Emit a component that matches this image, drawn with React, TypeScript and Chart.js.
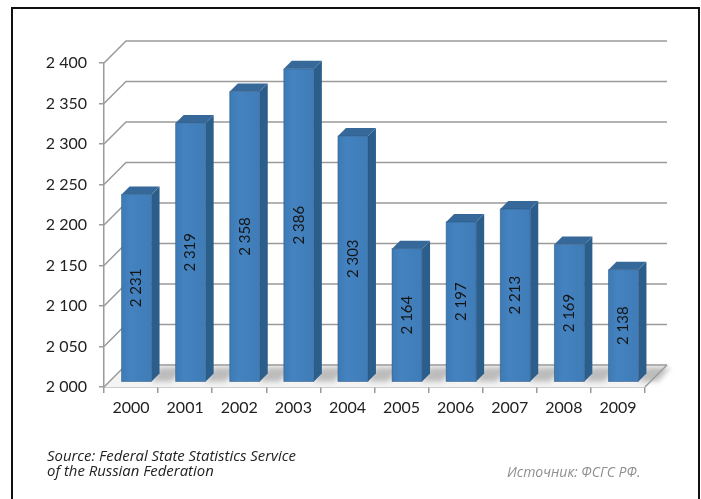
import React, { useEffect, useRef } from "react";
import { Chart, registerables } from "chart.js";

Chart.register(...registerables);

const years = ["2000", "2001", "2002", "2003", "2004", "2005", "2006", "2007", "2008", "2009"];
const values = [2231, 2319, 2358, 2386, 2303, 2164, 2197, 2213, 2169, 2138];
const yMin = 2000;
const yMax = 2400;
const yStep = 50;
const sourceLines = ["Source: Federal State Statistics Service", "of the Russian Federation"];
const sourceRu = "Источник: ФСГС РФ.";

const fmt = (v: number) => {
  const s = String(Math.round(v));
  return s.replace(/\B(?=(\d{3})+(?!\d))/g, " ");
};

const DX = 22; // back wall offset
const D1 = 5.5; // bar front depth
const D2 = 8; // bar depth

const GRID = "#9a9a9a";

const wallPlugin = {
  id: "wall3d",
  beforeDatasetsDraw(chart: any) {
    const { ctx, chartArea, scales } = chart;
    const y = scales.y;
    const L = chartArea.left;
    const R = chartArea.right;
    const y0 = y.getPixelForValue(yMin);
    ctx.save();
    // floor
    ctx.beginPath();
    ctx.moveTo(L, y0);
    ctx.lineTo(R, y0);
    ctx.lineTo(R + DX, y0 - DX);
    ctx.lineTo(L + DX, y0 - DX);
    ctx.closePath();
    ctx.fillStyle = "#f4f4f4";
    ctx.fill();
    // shadows on floor
    const meta = chart.getDatasetMeta(0);
    ctx.save();
    ctx.filter = "blur(2.5px)";
    meta.data.forEach((el: any) => {
      const p = el.getProps(["x", "width"], true);
      const x1 = p.x + p.width / 2 + D1;
      const b = y0 - D1;
      ctx.beginPath();
      ctx.moveTo(x1, b);
      ctx.lineTo(x1 + 20, b);
      ctx.lineTo(x1 + 20 + D2 + 4, b - D2 - 6);
      ctx.lineTo(x1 + D2, b - D2 - 6);
      ctx.closePath();
      ctx.fillStyle = "rgba(120,120,120,0.45)";
      ctx.fill();
    });
    ctx.restore();
    // grid lines
    ctx.strokeStyle = GRID;
    ctx.lineWidth = 1.5;
    for (let v = yMin; v <= yMax; v += yStep) {
      const py = y.getPixelForValue(v);
      ctx.beginPath();
      ctx.moveTo(L, py);
      ctx.lineTo(L + DX, py - DX);
      ctx.lineTo(R + DX, py - DX);
      ctx.stroke();
    }
    // right floor edge
    ctx.beginPath();
    ctx.moveTo(R, y0);
    ctx.lineTo(R + DX, y0 - DX);
    ctx.stroke();
    ctx.restore();
  },
  afterDatasetsDraw(chart: any) {
    const { ctx, scales } = chart;
    const meta = chart.getDatasetMeta(0);
    const y0 = scales.y.getPixelForValue(yMin);
    ctx.save();
    meta.data.forEach((el: any, i: number) => {
      const p = el.getProps(["x", "y", "width"], true);
      const x0 = p.x - p.width / 2 + D1;
      const x1 = p.x + p.width / 2 + D1;
      const top = p.y - D1;
      const bot = y0 - D1;
      // side
      ctx.beginPath();
      ctx.moveTo(x1, top);
      ctx.lineTo(x1 + D2, top - D2);
      ctx.lineTo(x1 + D2, bot - D2);
      ctx.lineTo(x1, bot);
      ctx.closePath();
      ctx.fillStyle = "#2c5e8b";
      ctx.fill();
      // top
      ctx.beginPath();
      ctx.moveTo(x0, top);
      ctx.lineTo(x0 + D2, top - D2);
      ctx.lineTo(x1 + D2, top - D2);
      ctx.lineTo(x1, top);
      ctx.closePath();
      ctx.fillStyle = "#36699a";
      ctx.fill();
      // front
      const g = ctx.createLinearGradient(x0, 0, x1, 0);
      g.addColorStop(0, "#3d7ab6");
      g.addColorStop(0.3, "#4483c0");
      g.addColorStop(1, "#3f7cb8");
      ctx.fillStyle = g;
      ctx.fillRect(x0, top, x1 - x0, bot - top);
      ctx.strokeStyle = "rgba(40,80,120,0.6)";
      ctx.lineWidth = 0.8;
      ctx.strokeRect(x0, top, x1 - x0, bot - top);
      // label
      ctx.save();
      ctx.translate((x0 + x1) / 2, (top + bot) / 2);
      ctx.rotate(-Math.PI / 2);
      ctx.fillStyle = "#151515";
      ctx.font = "15px Lato";
      ctx.textAlign = "center";
      ctx.textBaseline = "middle";
      ctx.fillText(fmt(values[i]), 0, 0);
      ctx.restore();
    });
    ctx.restore();
  },
};

export default function App() {
  const ref = useRef<HTMLCanvasElement>(null);
  useEffect(() => {
    if (!ref.current) return;
    const chart = new Chart(ref.current, {
      type: "bar",
      data: {
        labels: years,
        datasets: [
          {
            data: values,
            backgroundColor: "rgba(0,0,0,0)",
            borderWidth: 0,
            barPercentage: 0.555,
            categoryPercentage: 1,
          },
        ],
      },
      options: {
        responsive: false,
        animation: false,
        devicePixelRatio: 1,
        plugins: { legend: { display: false }, tooltip: { enabled: false } },
        layout: { padding: { left: 10, right: 56, top: 63, bottom: 72 } },
        scales: {
          x: {
            offset: true,
            grid: { offset: true, drawOnChartArea: false, tickLength: 6, color: GRID, lineWidth: 1.5 },
            border: { color: GRID, width: 1.5 },
            ticks: { font: { family: "Lato", size: 16 }, color: "#222", padding: 5 },
            afterFit: (s: any) => {
              s.height = 40;
            },
          },
          y: {
            min: yMin,
            max: yMax,
            grid: { drawOnChartArea: false, tickLength: 5, color: GRID, lineWidth: 1.5 },
            border: { color: GRID, width: 1.5 },
            ticks: {
              stepSize: yStep,
              font: { family: "Lato", size: 16 },
              color: "#222",
              padding: 12,
              callback: (v: any) => fmt(Number(v)),
            },
            afterFit: (s: any) => {
              s.width = 94;
            },
          },
        },
      },
      plugins: [wallPlugin],
    });
    return () => chart.destroy();
  }, []);

  return (
    <div style={{ position: "fixed", left: 0, top: 0, width: 701, height: 499, background: "#fff", overflow: "hidden" }}>
      <div
        style={{
          position: "absolute",
          left: 11,
          top: 7,
          width: 689,
          height: 520,
          border: "2px solid #111",
          boxSizing: "border-box",
        }}
      />
      <canvas ref={ref} width={701} height={499} style={{ position: "absolute", left: 0, top: 0 }} />
      <div
        style={{
          position: "absolute",
          left: 47,
          top: 448,
          fontFamily: "'Open Sans'",
          fontStyle: "italic",
          fontSize: 14.9,
          lineHeight: "15px",
          color: "#222",
          whiteSpace: "nowrap",
        }}
      >
        {sourceLines.map((l) => (
          <div key={l}>{l}</div>
        ))}
      </div>
      <div
        style={{
          position: "absolute",
          left: 507,
          top: 463,
          fontFamily: "'Open Sans'",
          fontStyle: "italic",
          fontSize: 14,
          lineHeight: "17px",
          color: "#8f8f8f",
          whiteSpace: "nowrap",
        }}
      >
        {sourceRu}
      </div>
    </div>
  );
}
